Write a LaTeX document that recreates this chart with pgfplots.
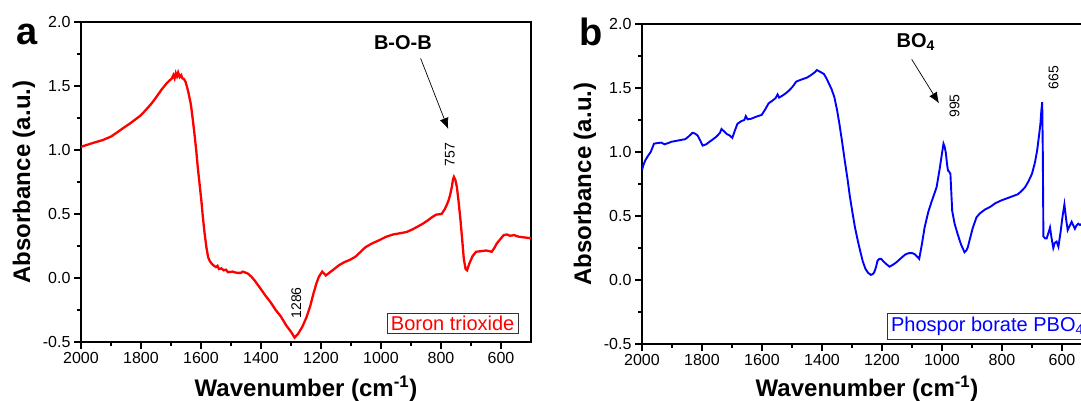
\documentclass[border=0pt]{standalone}
\usepackage{fontspec}
\setmainfont{Liberation Sans}
\usepackage{pgfplots}
\pgfplotsset{compat=1.18}
\usetikzlibrary{arrows.meta}

\tikzset{pk/.style={-{Latex[length=11pt,width=9pt]}, line width=0.7pt}}

\pgfplotsset{
  ftir/.style={
    scale only axis,
    width=450pt, height=320pt,
    x dir=reverse,
    xmin=500, xmax=2000,
    ymin=-0.5, ymax=2,
    xtick={600,800,...,2000},
    ytick={-0.5,0,0.5,1,1.5,2},
    minor x tick num=1,
    minor y tick num=1,
    tick align=outside,
    tick pos=left,
    major tick length=7pt,
    minor tick length=4pt,
    axis line style={line width=1.3pt},
    every tick/.style={line width=1.1pt, black},
    /pgf/number format/assume math mode=true,
    tick label style={font=\fontsize{16}{16}\selectfont},
    xticklabel style={/pgf/number format/set thousands separator={}},
    yticklabel style={/pgf/number format/.cd, fixed, fixed zerofill, precision=1},
    label style={font=\bfseries\fontsize{24}{24}\selectfont},
    ylabel={Absorbance (a.u.)},
    xlabel={Wavenumber (cm\textsuperscript{-1})},
    ylabel style={at={(axis description cs:-0.127,0.5)}, anchor=center},
    clip=true,
  },
}

\begin{document}
\begin{tikzpicture}
\path[use as bounding box, clip] (0,0) rectangle (1081pt,401pt);

% panel a
\begin{axis}[ftir, at={(81pt,59pt)}, anchor=south west,
  xlabel style={at={(axis description cs:0.5,0)}, anchor=base, yshift=-55pt}]
\addplot[red, line width=2.3pt] coordinates {
(2000,1.025) (1960,1.055) (1927,1.078) (1900,1.105) (1881,1.135) (1860,1.17) (1835,1.21)
(1818,1.24) (1801,1.27) (1785,1.31) (1766,1.36) (1750,1.41) (1732,1.47) (1715,1.52)
(1697,1.56) (1692,1.585) (1688,1.56) (1684,1.6) (1680,1.575) (1676,1.605) (1671,1.57)
(1666,1.585) (1662,1.56) (1657,1.555) (1651,1.53) (1643,1.46) (1634,1.36) (1628,1.25)
(1622,1.13) (1616,1.0) (1611,0.87) (1605,0.74) (1599,0.61) (1594,0.48) (1588,0.35)
(1582,0.24) (1576,0.16) (1570,0.13) (1564,0.11) (1559,0.10) (1550,0.085) (1545,0.095)
(1540,0.07) (1532,0.075) (1524,0.06) (1517,0.065) (1510,0.045) (1495,0.05) (1480,0.04)
(1467,0.04) (1461,0.05) (1455,0.045) (1444,0.035) (1432,0.01) (1421,-0.02)
(1404,-0.075) (1386,-0.135) (1368,-0.19) (1351,-0.25) (1334,-0.30) (1316,-0.37)
(1300,-0.42) (1288,-0.466) (1282,-0.45) (1276,-0.435) (1262,-0.38) (1248,-0.305)
(1236,-0.22) (1225,-0.12) (1215,-0.04) (1207,0.01) (1200,0.035) (1196,0.05) (1190,0.035)
(1184,0.02) (1170,0.045) (1156,0.07) (1140,0.10) (1121,0.125) (1105,0.14) (1086,0.165)
(1070,0.20) (1052,0.24) (1030,0.27) (1006,0.295) (985,0.32) (960,0.34) (935,0.35)
(914,0.36) (895,0.38) (879,0.40) (860,0.425) (844,0.45) (830,0.475) (816,0.495)
(798,0.50) (788,0.535) (781,0.57) (775,0.605) (770,0.645) (764,0.71) (760,0.77)
(757,0.79) (752,0.765) (747,0.71) (741,0.59) (735,0.45) (729,0.29) (724,0.15) (718,0.07)
(713,0.06) (706,0.11) (695,0.17) (683,0.205) (665,0.21) (649,0.215) (631,0.205)
(622,0.235) (614,0.27) (600,0.31) (591,0.335) (580,0.34) (570,0.33) (556,0.335)
(545,0.325) (533,0.32) (515,0.315) (500,0.31)
};
\node[font=\bfseries\fontsize{20}{20}\selectfont, anchor=base] at (axis cs:927,1.789) {B-O-B};
\draw[pk] (axis cs:868,1.716) -- (axis cs:776,1.164);
\node[rotate=90, font=\fontsize{14}{14}\selectfont] at (axis cs:770,0.965) {757};
\node[rotate=90, font=\fontsize{14}{14}\selectfont] at (axis cs:1282,-0.195) {1286};
\node[draw=black!80, line width=0.7pt, fill=white, text=red, anchor=south east,
  inner xsep=4pt, inner ysep=2.5pt, font=\fontsize{20}{20}\selectfont,
  xshift=-12.3pt, yshift=8.7pt] at (axis description cs:1,0) {Boron trioxide};
\end{axis}

% panel b
\begin{axis}[ftir, at={(642pt,57pt)}, anchor=south west,
  xlabel style={at={(axis description cs:0.5,0)}, anchor=base, yshift=-53pt}]
\addplot[blue, line width=1.9pt] coordinates {
(2000,0.86) (1995,0.90) (1989,0.935) (1980,0.97) (1971,1.0) (1960,1.065) (1948,1.07)
(1936,1.073) (1925,1.06) (1912,1.07) (1902,1.08) (1890,1.085) (1879,1.09) (1868,1.095)
(1856,1.10) (1845,1.12) (1832,1.15) (1824,1.145) (1815,1.13) (1806,1.09) (1798,1.05)
(1786,1.06) (1775,1.08) (1763,1.10) (1752,1.12) (1740,1.15) (1735,1.18) (1726,1.16)
(1717,1.14) (1708,1.13) (1699,1.11) (1690,1.17) (1682,1.22) (1670,1.24) (1659,1.25)
(1654,1.28) (1648,1.255) (1636,1.26) (1620,1.275) (1601,1.29) (1590,1.33) (1578,1.38)
(1566,1.40) (1555,1.42) (1548,1.45) (1543,1.425) (1532,1.44) (1520,1.46) (1510,1.48)
(1498,1.51) (1486,1.55) (1470,1.565) (1451,1.58) (1437,1.60) (1423,1.625) (1417,1.64)
(1405,1.625) (1394,1.61) (1385,1.575) (1376,1.53) (1368,1.49) (1359,1.43) (1350,1.33)
(1342,1.22) (1333,1.08) (1324,0.93) (1315,0.79) (1307,0.65) (1298,0.52) (1290,0.41)
(1281,0.31) (1272,0.22) (1264,0.145) (1255,0.086) (1246,0.055) (1237,0.04) (1230,0.048)
(1226,0.06) (1220,0.10) (1215,0.15) (1209,0.165) (1203,0.165) (1195,0.145) (1186,0.125)
(1175,0.104) (1163,0.12) (1151,0.14) (1137,0.17) (1122,0.20) (1110,0.21) (1099,0.21)
(1090,0.20) (1082,0.18) (1076,0.165) (1067,0.28) (1058,0.41) (1046,0.53) (1035,0.61)
(1018,0.725) (1007,0.88) (1000,0.99) (995,1.065) (991,1.04) (987,0.99) (983,0.90)
(980,0.856) (976,0.845) (972,0.83) (966,0.54) (958,0.44) (948,0.36) (937,0.28)
(925,0.217) (919,0.23) (914,0.256) (906,0.33) (897,0.41) (885,0.49) (874,0.52) (857,0.55)
(840,0.57) (822,0.60) (804,0.62) (787,0.635) (770,0.65) (758,0.66) (747,0.67) (735,0.695)
(723,0.725) (712,0.77) (700,0.83) (690,0.92) (683,1.01) (677,1.12) (672,1.22) (669,1.32)
(666,1.39) (664,1.0) (662,0.34) (656,0.325) (651,0.325) (645,0.37) (640,0.41) (635,0.33)
(629,0.25) (624,0.29) (618,0.30) (612,0.26) (605,0.37) (598,0.50) (592,0.59) (586,0.47)
(581,0.39) (575,0.42) (568,0.455) (563,0.43) (557,0.40) (552,0.425) (546,0.44) (540,0.43)
(530,0.445) (515,0.44) (500,0.44)
};
\node[font=\bfseries\fontsize{20}{20}\selectfont, anchor=base west] at (axis cs:1163,1.82) {BO\textsubscript{4}};
\draw[pk] (axis cs:1101,1.724) -- (axis cs:1010,1.380);
\node[rotate=90, font=\fontsize{14}{14}\selectfont] at (axis cs:958,1.36) {995};
\node[rotate=90, font=\fontsize{14}{14}\selectfont] at (axis cs:628,1.58) {665};
\node[draw=black!80, line width=0.7pt, fill=white, text=blue, anchor=south west,
  inner xsep=4pt, inner ysep=3.5pt, font=\fontsize{20}{20}\selectfont,
  xshift=244.7pt, yshift=4.7pt] at (axis description cs:0,0) {Phospor borate PBO\textsubscript{4}};
\end{axis}

\node[font=\bfseries\fontsize{38}{38}\selectfont, anchor=base] at (27pt,356pt) {a};
\node[font=\bfseries\fontsize{38}{38}\selectfont, anchor=base west, inner sep=0pt] at (579pt,355pt) {b};
\end{tikzpicture}
\end{document}
